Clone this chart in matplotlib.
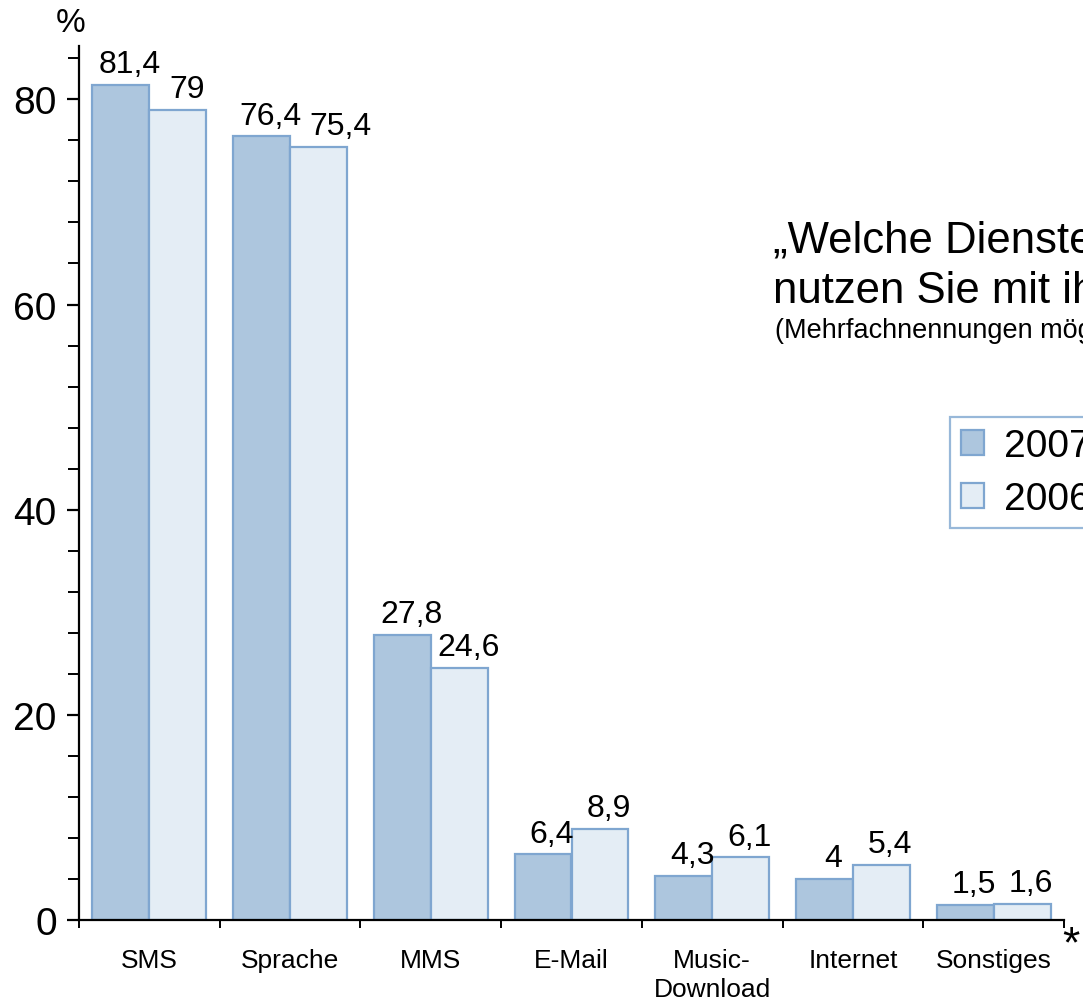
import numpy as np
import matplotlib
matplotlib.use("Agg")
import matplotlib.pyplot as plt
from matplotlib.ticker import MultipleLocator

plt.rcParams['font.family'] = ['Liberation Sans', 'DejaVu Sans']

kategorien = ['SMS', 'Sprache', 'MMS', 'E-Mail', 'Music-\nDownload', 'Internet', 'Sonstiges']
werte_2007 = [81.4, 76.4, 27.8, 6.4, 4.3, 4.0, 1.5]
werte_2006 = [79.0, 75.4, 24.6, 8.9, 6.1, 5.4, 1.6]
jahre = ['2007', '2006']

farbe_2007 = '#adc6de'
farbe_2006 = '#e4edf5'
rand = '#7fa6d0'

W, H = 1083, 1004
fig = plt.figure(figsize=(W / 100, H / 100), dpi=100)
ax = fig.add_axes([79 / W, (H - 921) / H, (1064 - 79) / W, (921 - 47) / H])

x = np.arange(len(kategorien))
b = 0.405
bars07 = ax.bar(x - b / 2, werte_2007, b, color=farbe_2007, edgecolor=rand, linewidth=1.6, label=jahre[0])
bars06 = ax.bar(x + b / 2, werte_2006, b, color=farbe_2006, edgecolor=rand, linewidth=1.6, label=jahre[1])

def fmt(v):
    s = ('%.1f' % v).replace('.', ',')
    return s[:-2] if s.endswith(',0') else s

labels = []
for bars, vals in ((bars07, werte_2007), (bars06, werte_2006)):
    reihe = []
    for r, v in zip(bars, vals):
        t = ax.annotate(fmt(v), (r.get_x() + r.get_width() / 2, v), xytext=(6.5, 4),
                        textcoords='offset points', ha='center', va='bottom', fontsize=23)
        reihe.append(t)
    labels.append(reihe)

ax.set_xlim(-0.5, len(kategorien) - 0.5)
ax.set_ylim(0, 85.2)
ax.spines['top'].set_visible(False)
ax.spines['right'].set_visible(False)
ax.spines['left'].set_linewidth(1.6)
ax.spines['bottom'].set_linewidth(1.6)

ax.yaxis.set_major_locator(MultipleLocator(20))
ax.yaxis.set_minor_locator(MultipleLocator(4))
ax.tick_params(axis='y', which='major', labelsize=28, length=8.5, width=1.6, pad=7.5)
ax.tick_params(axis='y', which='minor', length=8, width=1.4)

ax.set_xticks(np.arange(len(kategorien) + 1) - 0.5, minor=True)
ax.set_xticks(x)
ax.set_xticklabels(kategorien, fontsize=19, va='top', linespacing=1.25)
ax.tick_params(axis='x', which='major', length=0, pad=20)
ax.tick_params(axis='x', which='minor', length=6, width=1.4, direction='out')

# Beschriftungen, die sich ueberlappen, nach rechts schieben
fig.canvas.draw()
rend = fig.canvas.get_renderer()
for a, c in zip(labels[0], labels[1]):
    ba = a.get_window_extent(rend)
    bc = c.get_window_extent(rend)
    if bc.x0 < ba.x1 + 6 and bc.y1 > ba.y0:
        dx = (ba.x1 + 8 - bc.x0) * 72 / fig.dpi
        ox, oy = c.xyann
        c.xyann = (ox + dx, oy)

fig.text(71 / W, 1 - 24 / H, '%', fontsize=24, ha='center', va='center')
fig.text(1071 / W, 1 - 946 / H, '*', fontsize=32, ha='center', va='center')

fig.text(773 / W, 1 - 252 / H, '„Welche Dienste', fontsize=31.5, ha='left', va='baseline')
fig.text(773 / W, 1 - 303 / H, 'nutzen Sie mit ihrem Handy?“', fontsize=31.5, ha='left', va='baseline')
fig.text(775 / W, 1 - 338 / H, '(Mehrfachnennungen möglich)', fontsize=19.5, ha='left', va='baseline')

leg = fig.legend(handles=[bars07, bars06], labels=jahre, loc='upper left',
                 bbox_to_anchor=(950 / W, 1 - 418 / H), fontsize=28, frameon=True,
                 fancybox=False, borderpad=0.28, handlelength=0.6, handleheight=0.6,
                 handletextpad=0.5, labelspacing=0.45, borderaxespad=0)
leg.get_frame().set_edgecolor(rand)
leg.get_frame().set_linewidth(1.6)

fig.savefig('out.png', dpi=100)
